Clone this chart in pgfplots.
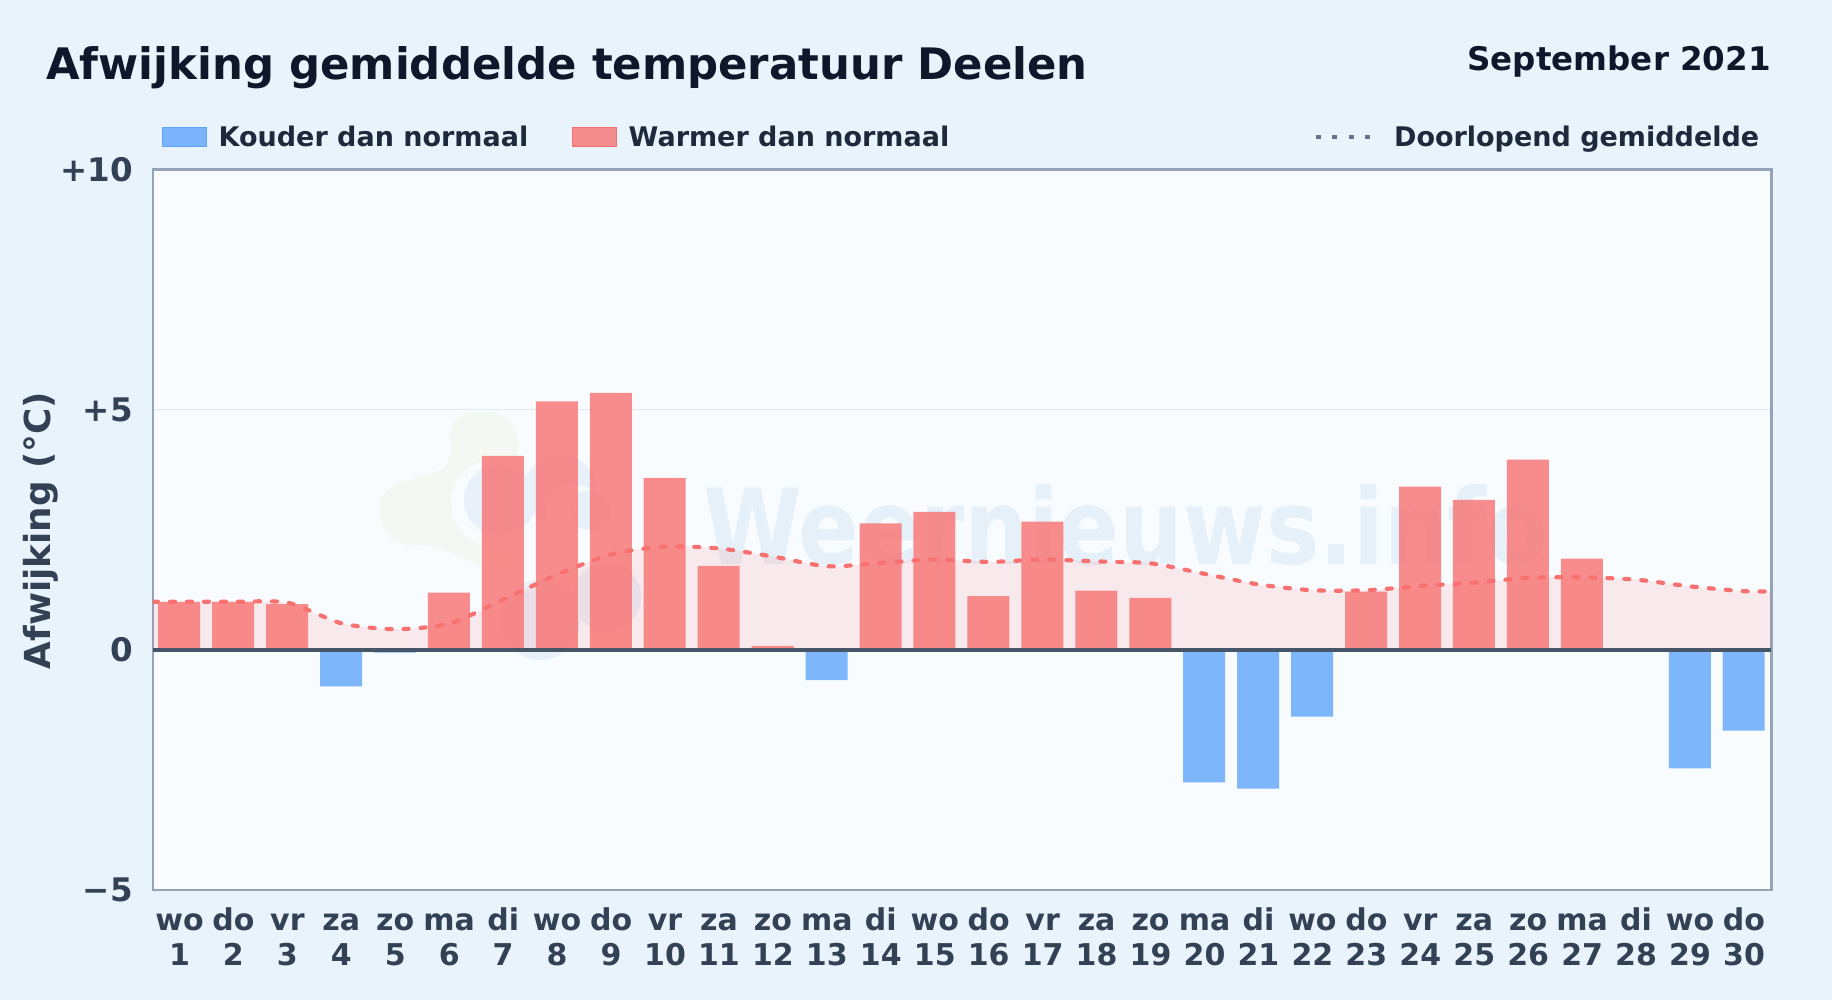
\documentclass[border=0pt]{standalone}
\usepackage{fontspec}
\setmainfont{DejaVu Sans}
\usepackage{pgfplots}
\usepackage{pgfplotstable}
\pgfplotsset{compat=1.18}
\definecolor{pagebg}{HTML}{E8F3FC}
\definecolor{plotbg}{HTML}{F8FCFF}
\definecolor{frame}{HTML}{94A3B8}
\definecolor{gridc}{HTML}{E2E8F0}
\definecolor{zero}{HTML}{475569}
\definecolor{warm}{HTML}{F87171}
\definecolor{cold}{HTML}{60A5FA}
\definecolor{titlec}{HTML}{0F172A}
\definecolor{legc}{HTML}{1E293B}
\definecolor{tickc}{HTML}{334155}
\definecolor{dotc}{HTML}{64748B}
\definecolor{wm}{HTML}{E6F0F9}
\definecolor{wmg}{HTML}{F3F9F2}
\definecolor{wmb}{HTML}{E8F0F9}
\newcommand\X{\rule{0pt}{24pt}}
\pgfplotstableread{
x y
0.5 1.00
1 1.00
2 1.00
3 0.98
4 0.55
5 0.43
6 0.55
7 1.05
8 1.57
9 1.99
10 2.15
11 2.11
12 1.94
13 1.74
14 1.81
15 1.88
16 1.83
17 1.88
18 1.84
19 1.80
20 1.58
21 1.36
22 1.24
23 1.24
24 1.33
25 1.40
26 1.50
27 1.51
28 1.46
29 1.32
30 1.22
30.5 1.22
}\meantable
\pgfplotstableread{
x y
1 1.00
2 1.00
3 0.95
6 1.19
7 4.04
8 5.17
9 5.35
10 3.58
11 1.75
12 0.08
14 2.63
15 2.87
16 1.12
17 2.67
18 1.23
19 1.08
23 1.21
24 3.40
25 3.12
26 3.96
27 1.90
}\warmtable
\pgfplotstableread{
x y
4 -0.76
5 -0.06
13 -0.63
20 -2.76
21 -2.89
22 -1.39
29 -2.47
30 -1.68
}\coldtable
\begin{document}
\begin{tikzpicture}[x=1pt,y=1pt]
\useasboundingbox (0,0) rectangle (1832,1000);
\fill[pagebg] (0,0) rectangle (1832,1000);
\fill[plotbg] (153,110) rectangle (1771.5,830.5);
% watermark
\begin{scope}[shift={(0,1000)},yscale=-1]
\fill[wmg] (483,412) .. controls (505,412) and (520,425) .. (518,450) .. controls (516,470) and (490,470) .. (480,490)
  .. controls (472,510) and (530,530) .. (515,560) .. controls (500,590) and (445,540) .. (420,545)
  .. controls (395,550) and (378,530) .. (380,505) .. controls (382,480) and (420,480) .. (440,470)
  .. controls (458,460) and (448,440) .. (450,430) .. controls (455,415) and (470,412) .. (483,412) -- cycle;
\fill[plotbg] (495,503) circle (44);
\fill[wmb] (500,500) circle (36);
\fill[wmb] (560,490) circle (36);
\fill[wmb] (607,597) circle (34);
\fill[plotbg] (575,515) circle (30);
\fill[wmb] (540,620) circle (40);
\fill[wmb] (590,510) circle (20);
\end{scope}
\node[anchor=base west,inner sep=0pt,text=wm,xscale=0.853,transform shape,font=\fontsize{105}{110}\selectfont\bfseries] at (703,435) {Weernieuws.info};
% titles
\node[anchor=base west,inner sep=0pt,text=titlec,font=\fontsize{43.4}{48}\selectfont\bfseries] at (46,920.5) {Afwijking gemiddelde temperatuur Deelen};
\node[anchor=base east,inner sep=0pt,text=titlec,font=\fontsize{32.5}{36}\selectfont\bfseries] at (1771,929.5) {September 2021};
\begin{axis}[
  at={(153pt,110pt)}, anchor=south west,
  scale only axis, width=1618.5pt, height=720.5pt,
  xmin=0.5, xmax=30.5, ymin=-5, ymax=10,
  axis line style={draw=frame,line width=2.5pt},
  xtick={1,...,30},
  xticklabels={{\X wo\\1},{\X do\\2},{\X vr\\3},{\X za\\4},{\X zo\\5},{\X ma\\6},{\X di\\7},{\X wo\\8},{\X do\\9},{\X vr\\10},{\X za\\11},{\X zo\\12},{\X ma\\13},{\X di\\14},{\X wo\\15},{\X do\\16},{\X vr\\17},{\X za\\18},{\X zo\\19},{\X ma\\20},{\X di\\21},{\X wo\\22},{\X do\\23},{\X vr\\24},{\X za\\25},{\X zo\\26},{\X ma\\27},{\X di\\28},{\X wo\\29},{\X do\\30}},
  ytick={-5,0,5,10},
  yticklabels={−5,0,+5,+10},
  major tick length=0pt,
  tick style={draw=none},
  ymajorgrids, grid style={draw=gridc,line width=1.5pt},
  xticklabel style={align=center,inner sep=0pt,anchor=north,xshift=-0.5pt,yshift=-16.7pt,text=tickc,
     font=\fontsize{30}{34.5}\selectfont\bfseries},
  yticklabel style={inner sep=0pt,anchor=east,xshift=-20pt,text=tickc,
     font=\fontsize{32.5}{36}\selectfont\bfseries},
  ylabel={Afwijking (°C)},
  ylabel style={at={(axis description cs:-0.0695,0.499)},anchor=center,text=tickc,inner sep=0pt,
     font=\fontsize{35.8}{40}\selectfont\bfseries},
  ybar, bar width=42pt, bar shift=-0.8pt,
  legend columns=3,
  legend style={at={(axis description cs:0.0056,1.045)},anchor=west,draw=none,fill=none,inner sep=0pt,
     font=\fontsize{27.0}{30}\selectfont\bfseries,text=legc,
     nodes={inner sep=0pt},
     /tikz/column 1/.style={column sep=12pt},
     /tikz/column 2/.style={column sep=44pt},
     /tikz/column 3/.style={column sep=12pt},
     /tikz/column 4/.style={column sep=364.5pt},
     /tikz/column 5/.style={column sep=21pt}},
]
\addlegendimage{legend image code/.code={\fill[cold,fill opacity=.8] (0,-9.5pt) rectangle (44pt,9.5pt);}}
\addlegendentry{Kouder dan normaal}
\addlegendimage{legend image code/.code={\fill[warm,fill opacity=.8] (0,-9.5pt) rectangle (44pt,9.5pt);}}
\addlegendentry{Warmer dan normaal}
\addlegendimage{legend image code/.code={\draw[dotc,line width=4.3pt,dash pattern=on 5pt off 11.5pt] (0,0) -- (55pt,0);}}
\addlegendentry{Doorlopend gemiddelde}
\addplot[forget plot,sharp plot,smooth,tension=0.45,draw=none,fill=warm,fill opacity=.13] table[x=x,y=y] {\meantable} \closedcycle;
\addplot[forget plot,draw=none,fill=warm,fill opacity=.8] table[x=x,y=y] {\warmtable};
\addplot[forget plot,draw=none,fill=cold,fill opacity=.8] table[x=x,y=y] {\coldtable};
\addplot[forget plot,sharp plot,smooth,tension=0.45,warm,line width=4.2pt,line cap=round,dash pattern=on 5pt off 12pt] table[x=x,y=y] {\meantable};
\addplot[forget plot,sharp plot,zero,line width=3.4pt] coordinates {(0.5,0) (30.5,0)};
\end{axis}
\end{tikzpicture}
\end{document}
